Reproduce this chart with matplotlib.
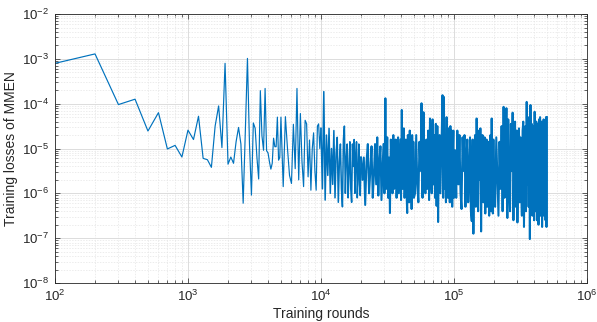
import numpy as np
import matplotlib.pyplot as plt
from matplotlib.ticker import LogLocator, NullFormatter

plt.rcParams['font.family'] = ['Liberation Sans', 'DejaVu Sans']

# training rounds, recorded in segments
rounds_a = np.arange(100, 5001, 100)
rounds_b = np.arange(5200, 10001, 200)
rounds_c = np.arange(10250, 20001, 250)
rounds_d = np.arange(20500, 50001, 500)
rounds_e = np.arange(51000, 100001, 1000)
rounds_f = np.arange(102000, 200001, 2000)
rounds_g = np.arange(204000, 500001, 4000)

# log10 of the training loss
loss_exp_a = [-3.10, -2.89, -4.02, -3.90, -4.61, -4.20, -5.01, -4.93, -5.19, -4.59,
              -4.80, -4.28, -5.22, -5.25, -5.42, -4.50, -4.05, -4.98, -3.10, -5.35,
              -5.19, -5.33, -4.85, -4.53, -4.90, -6.22, -4.60, -2.99, -4.90, -6.04,
              -4.43, -4.55, -5.20, -5.68, -3.71, -4.72, -5.04, -3.66, -5.05, -5.10,
              -5.30, -5.46, -5.33, -4.77, -4.96, -4.96, -4.30, -5.26, -5.20, -4.30]
loss_exp_b = [-5.85, -4.29, -5.00, -5.60, -5.78, -4.46, -5.45, -3.66, -5.70, -4.22,
              -5.30, -5.85, -4.37, -4.45, -5.63, -4.81, -5.93, -5.00, -4.65, -5.50,
              -5.93, -4.50, -4.45, -5.00, -4.55]
loss_exp_c = [-5.90, -3.73, -6.15, -4.70, -5.60, -4.55, -6.00, -5.00, -5.80, -4.60,
              -6.10, -5.10, -4.75, -6.20, -5.30, -4.90, -5.90, -6.30, -4.80, -4.50,
              -6.00, -5.20, -4.90, -6.10, -5.50, -4.85, -5.90, -6.20, -4.90, -5.40,
              -4.80, -6.00, -5.20, -4.85, -6.10, -5.60, -4.90, -5.80, -6.05, -5.20]
loss_exp_d = [-5.70, -5.20, -6.26, -5.30, -4.90, -6.00, -5.50, -4.95, -6.10, -5.60,
              -4.90, -5.80, -4.75, -6.05, -5.30, -4.95, -6.15, -5.50, -4.90, -6.00,
              -3.88, -5.90, -4.75, -6.10, -5.20, -6.44, -4.80, -5.60, -6.00, -4.70,
              -5.90, -5.30, -4.80, -6.10, -5.50, -4.75, -6.00, -5.40, -4.80, -6.15,
              -4.14, -5.90, -5.20, -4.55, -6.10, -5.50, -4.80, -6.00, -6.44, -4.70,
              -5.60, -6.20, -4.60, -5.80, -5.00, -6.35, -4.70, -5.90, -4.85, -6.10]
loss_exp_e = [-6.00, -4.70, -5.80, -6.20, -4.85, -5.50, -3.99, -6.10, -4.19, -5.70,
              -6.00, -4.80, -5.90, -4.60, -6.15, -4.33, -5.60, -6.00, -4.35, -5.80,
              -4.70, -6.10, -4.45, -6.28, -4.50, -6.64, -5.00, -4.70, -6.00, -5.30,
              -4.60, -3.81, -6.10, -3.85, -5.90, -4.70, -6.20, -4.30, -5.80, -6.10,
              -4.55, -5.50, -6.20, -4.50, -5.90, -4.60, -6.30, -5.10, -4.60, -6.10]
loss_exp_f = [-5.04, -6.10, -4.60, -5.80, -4.70, -6.00, -6.35, -4.75, -5.50, -4.70,
              -6.30, -5.20, -4.80, -6.20, -5.60, -4.75, -6.40, -6.62, -4.80, -6.90,
              -5.30, -4.70, -6.30, -4.33, -5.90, -6.40, -4.60, -5.70, -4.55, -6.85,
              -5.10, -4.70, -6.20, -5.50, -4.75, -6.45, -5.00, -4.80, -6.30, -5.60,
              -4.85, -6.50, -5.20, -4.70, -6.40, -4.33, -5.90, -6.45, -4.80, -6.20]
loss_exp_g = [-6.30, -4.75, -5.60, -6.50, -4.85, -5.90, -4.50, -6.40, -4.07, -6.10,
              -5.20, -4.10, -6.55, -4.35, -5.80, -6.40, -4.45, -5.50, -4.20, -6.60,
              -5.10, -4.40, -6.30, -4.60, -6.65, -5.40, -4.55, -6.20, -4.75, -5.90,
              -6.50, -4.60, -4.40, -6.75, -5.30, -4.50, -6.40, -3.96, -5.80, -4.30,
              -6.30, -4.70, -7.02, -4.03, -5.90, -4.45, -6.50, -5.00, -4.50, -6.60,
              -4.18, -5.70, -6.40, -4.40, -6.60, -5.20, -4.45, -6.70, -4.35, -5.80,
              -4.30, -6.50, -5.10, -4.40, -6.75, -4.60, -5.90, -4.35, -6.50, -5.30,
              -4.40, -6.60, -4.30, -6.75, -4.30]

rounds = np.concatenate([rounds_a, rounds_b, rounds_c, rounds_d,
                         rounds_e, rounds_f, rounds_g])
losses = 10.0 ** np.concatenate([loss_exp_a, loss_exp_b, loss_exp_c, loss_exp_d,
                                 loss_exp_e, loss_exp_f, loss_exp_g])

dark = '#262626'
blue = '#0072BD'
fig = plt.figure(figsize=(5.97, 3.22), dpi=100)
ax = fig.add_axes([0.0921, 0.1211, 0.8911, 0.8354])

# the early rounds are sparse; later ones get drawn heavier so the band reads solid
n1 = len(rounds_a) + len(rounds_b)
n2 = n1 + len(rounds_c)
ax.plot(rounds[:n1], losses[:n1], color=blue, linewidth=0.85)
ax.plot(rounds[n1 - 1:n2], losses[n1 - 1:n2], color=blue, linewidth=1.1)
ax.plot(rounds[n2 - 1:], losses[n2 - 1:], color=blue, linewidth=1.45)

ax.set_xscale('log')
ax.set_yscale('log')
ax.set_xlim(1e2, 1e6)
ax.set_ylim(1e-8, 1e-2)
ax.set_xticks([1e2, 1e3, 1e4, 1e5, 1e6])
ax.set_yticks([1e-8, 1e-7, 1e-6, 1e-5, 1e-4, 1e-3, 1e-2])
ax.xaxis.set_minor_locator(LogLocator(base=10, subs=np.arange(2, 10), numticks=20))
ax.yaxis.set_minor_locator(LogLocator(base=10, subs=np.arange(2, 10), numticks=20))
ax.xaxis.set_minor_formatter(NullFormatter())
ax.yaxis.set_minor_formatter(NullFormatter())

ax.grid(True, which='major', color='#dcdcdc', linewidth=0.7, linestyle='-')
ax.grid(True, which='minor', color='#e4e4e4', linewidth=0.5, linestyle=(0, (2, 2)))
ax.set_axisbelow(True)

ax.tick_params(which='both', direction='in', top=True, right=True,
               colors=dark, labelsize=9.5)
ax.tick_params(which='major', length=3.5, width=0.5, pad=4)
ax.tick_params(which='minor', length=2, width=0.5)
for s in ax.spines.values():
    s.set_color(dark)
    s.set_linewidth(0.6)

ax.set_xlabel('Training rounds', fontsize=10, color=dark, labelpad=2)
ax.set_ylabel('Training losses of MMEN', fontsize=10, color=dark, labelpad=3)

fig.savefig('out.png', dpi=100)
